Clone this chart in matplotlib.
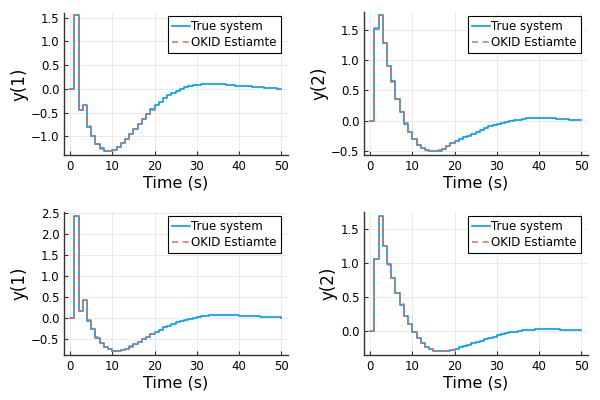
# Step responses: true system vs OKID estimate

import numpy as np
import matplotlib.pyplot as plt

t = np.arange(0, 51)
t_est = np.arange(0, 21)

# input 1 -> output 1
y11_true = [0.00, 1.55, -0.44, -0.34, -0.80, -0.99, -1.16, -1.25, -1.31, -1.32,
            -1.29, -1.23, -1.15, -1.05, -0.95, -0.85, -0.75, -0.64, -0.53, -0.43,
            -0.35, -0.27, -0.20, -0.14, -0.09, -0.04, 0.00, 0.03, 0.06, 0.08,
            0.09, 0.10, 0.11, 0.11, 0.11, 0.10, 0.10, 0.09, 0.08, 0.07,
            0.06, 0.05, 0.05, 0.04, 0.03, 0.03, 0.02, 0.01, 0.01, 0.00, 0.00]
y11_est = [0.00, 1.55, -0.44, -0.33, -0.79, -0.99, -1.16, -1.26, -1.32, -1.32,
           -1.28, -1.22, -1.15, -1.06, -0.95, -0.84, -0.74, -0.64, -0.54, -0.44,
           -0.35]

# input 1 -> output 2
y12_true = [0.00, 1.51, 1.74, 1.28, 0.90, 0.65, 0.36, 0.14, -0.05, -0.19,
            -0.30, -0.40, -0.45, -0.48, -0.50, -0.50, -0.49, -0.46, -0.42, -0.37,
            -0.33, -0.30, -0.27, -0.24, -0.21, -0.18, -0.15, -0.12, -0.09, -0.07,
            -0.05, -0.03, -0.01, 0.00, 0.01, 0.02, 0.03, 0.04, 0.04, 0.045,
            0.045, 0.045, 0.04, 0.04, 0.035, 0.03, 0.025, 0.02, 0.015, 0.01, 0.01]
y12_est = [0.00, 1.52, 1.74, 1.28, 0.90, 0.64, 0.36, 0.15, -0.04, -0.18,
           -0.30, -0.39, -0.45, -0.49, -0.50, -0.50, -0.48, -0.45, -0.41, -0.37,
           -0.33]

# input 2 -> output 1
y21_true = [0.00, 2.42, 0.16, 0.43, -0.07, -0.26, -0.47, -0.59, -0.69, -0.75,
            -0.79, -0.79, -0.77, -0.74, -0.69, -0.63, -0.57, -0.51, -0.45, -0.39,
            -0.33, -0.28, -0.23, -0.19, -0.15, -0.11, -0.08, -0.05, -0.02, 0.00,
            0.02, 0.04, 0.05, 0.06, 0.065, 0.07, 0.07, 0.065, 0.06, 0.06,
            0.055, 0.05, 0.045, 0.04, 0.035, 0.03, 0.025, 0.02, 0.015, 0.01, 0.005]
y21_est = [0.00, 2.42, 0.16, 0.43, -0.06, -0.26, -0.46, -0.60, -0.70, -0.76,
           -0.79, -0.79, -0.77, -0.73, -0.68, -0.62, -0.57, -0.51, -0.44, -0.38,
           -0.33]

# input 2 -> output 2
y22_true = [0.00, 1.07, 1.70, 1.25, 0.985, 0.79, 0.56, 0.39, 0.22, 0.10,
            -0.015, -0.10, -0.17, -0.23, -0.27, -0.29, -0.30, -0.30, -0.295, -0.285,
            -0.265, -0.24, -0.22, -0.20, -0.18, -0.16, -0.14, -0.12, -0.10, -0.08,
            -0.06, -0.045, -0.03, -0.02, -0.01, 0.00, 0.01, 0.015, 0.02, 0.025,
            0.025, 0.03, 0.03, 0.025, 0.025, 0.02, 0.02, 0.015, 0.015, 0.01, 0.01]
y22_est = [0.00, 1.07, 1.70, 1.26, 0.98, 0.79, 0.56, 0.40, 0.23, 0.10,
           -0.01, -0.10, -0.18, -0.23, -0.27, -0.29, -0.30, -0.30, -0.29, -0.28,
           -0.26]

panels = [
    (y11_true, y11_est, 'y(1)', (-1.395, 1.60), [-1.0, -0.5, 0.0, 0.5, 1.0, 1.5]),
    (y12_true, y12_est, 'y(2)', (-0.56, 1.785), [-0.5, 0.0, 0.5, 1.0, 1.5]),
    (y21_true, y21_est, 'y(1)', (-0.885, 2.515), [-0.5, 0.0, 0.5, 1.0, 1.5, 2.0, 2.5]),
    (y22_true, y22_est, 'y(2)', (-0.353, 1.755), [0.0, 0.5, 1.0, 1.5]),
]

# axes boxes in figure fractions (left, bottom, width, height)
boxes = [
    (0.107, 0.6125, 0.373, 0.355),
    (0.607, 0.6125, 0.373, 0.357),
    (0.107, 0.1125, 0.373, 0.357),
    (0.607, 0.1125, 0.373, 0.357),
]
# legend upper-right corners (figure fractions)
leg_anchors = [(0.468, 0.961), (0.968, 0.961), (0.468, 0.461), (0.968, 0.461)]

fig = plt.figure(figsize=(6, 4), dpi=100)

for (yt, ye, ylab, ylim, yticks), box, anc in zip(panels, boxes, leg_anchors):
    ax = fig.add_axes(box)
    ax.step(t, yt, where='post', color='#009AFA', lw=1.2, label='True system')
    ax.step(t_est, ye, where='post', color='#E26F46', lw=1.1, linestyle=(0, (4, 3)),
            label='OKID Estiamte')
    ax.set_xlim(-1.4, 51.6)
    ax.set_ylim(*ylim)
    ax.set_xticks([0, 10, 20, 30, 40, 50])
    ax.set_yticks(yticks)
    ax.set_yticklabels([f'{v:.1f}'.replace('-', '\u2212') for v in yticks])
    ax.grid(True, color='#e6e6e6', lw=0.6)
    ax.set_axisbelow(True)
    for s in ['top', 'right']:
        ax.spines[s].set_visible(False)
    for s in ['left', 'bottom']:
        ax.spines[s].set_linewidth(1.0)
        ax.spines[s].set_color('#333333')
    ax.tick_params(direction='in', length=3, labelsize=8.5, color='#333333')
    ax.set_xlabel('Time (s)', fontsize=11.5, labelpad=2)
    ax.set_ylabel(ylab, fontsize=12, labelpad=2)
    leg = ax.legend(loc='upper right', bbox_to_anchor=anc, bbox_transform=fig.transFigure,
                    fontsize=8.5, fancybox=False, framealpha=1,
                    edgecolor='black', handlelength=1.5, handletextpad=0.1,
                    borderpad=0.35, labelspacing=0.25, borderaxespad=0)
    leg.get_frame().set_linewidth(0.8)

plt.savefig('out.png')
